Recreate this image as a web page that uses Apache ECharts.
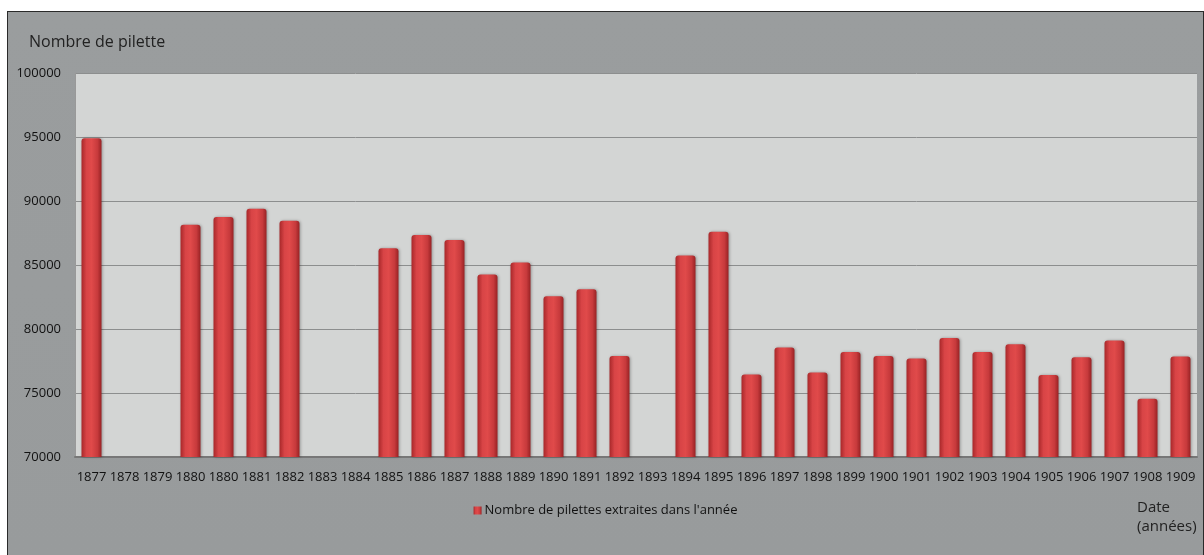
<!DOCTYPE html>
<html>
<head>
<meta charset="utf-8">
<script src="https://cdn.jsdelivr.net/npm/echarts@6/dist/echarts.min.js"></script>
<style>
  html, body { margin: 0; padding: 0; background: #fff; }
  #frame {
    position: absolute; left: 7px; top: 11px;
    width: 1195px; height: 543px;
    border: 1px solid #2a2a2a;
    background: linear-gradient(#9a9d9e, #989b9c);
  }
  #chart { width: 1195px; height: 543px; }
</style>
</head>
<body>
<div id="frame"><div id="chart"></div></div>
<script>
const years = ['1877', '1878', '1879', '1880', '1880', '1881', '1882', '1883', '1884', '1885',
  '1886', '1887', '1888', '1889', '1890', '1891', '1892', '1893', '1894', '1895',
  '1896', '1897', '1898', '1899', '1900', '1901', '1902', '1903', '1904', '1905',
  '1906', '1907', '1908', '1909']
const pilettes = [94900, null, null, 88150, 88750, 89400, 88450, null, null, 86300,
  87350, 86950, 84250, 85200, 82550, 83100, 77900, null, 85750, 87600,
  76450, 78550, 76600, 78200, 77900, 77700, 79300, 78200, 78800, 76400,
  77800, 79100, 74550, 77850]
const seriesName = "Nombre de pilettes extraites dans l'année"
const yTitle = 'Nombre de pilette'

const myChart = echarts.init(document.getElementById('chart'))
const font = 'Open Sans'

const barColor = new echarts.graphic.LinearGradient(0, 0, 1, 0, [
  { offset: 0, color: '#a8282a' },
  { offset: 0.25, color: '#d84446' },
  { offset: 0.5, color: '#e04a4a' },
  { offset: 0.8, color: '#c73a3c' },
  { offset: 1, color: '#982224' }
])

const option = {
  animation: false,
  textStyle: { fontFamily: font },
  title: {
    text: yTitle,
    left: 16,
    top: 17,
    textStyle: { fontFamily: font, fontSize: 16, fontWeight: 'normal', color: '#222' }
  },
  legend: {
    top: 487,
    left: 'center',
    icon: 'rect',
    itemWidth: 8,
    itemHeight: 8,
    itemGap: 4,
    textStyle: { fontFamily: font, fontSize: 13, color: '#111', padding: [0, 0, 0, -2] }
  },
  grid: { left: 67, right: 6, top: 61, bottom: 98 },
  xAxis: {
    type: 'category',
    data: years,
    axisTick: { show: false },
    axisLine: { lineStyle: { color: '#777', width: 2 } },
    axisLabel: { interval: 0, margin: 14, fontSize: 13, color: '#111', fontFamily: font }
  },
  yAxis: {
    type: 'value',
    min: 70000,
    max: 100000,
    interval: 5000,
    axisLine: { show: true, lineStyle: { color: '#999', width: 1 } },
    axisTick: { show: false },
    axisLabel: {
      margin: 14, fontSize: 13, color: '#111', fontFamily: font,
      formatter: function (v) { return String(v) }
    },
    splitLine: { lineStyle: { color: '#8c8e8e', width: 1 } },
    splitArea: { show: true, areaStyle: { color: ['#d3d5d4', '#d3d5d4'] } }
  },
  graphic: [
    {
      type: 'text',
      left: 1129,
      top: 486,
      style: {
        text: 'Date\n(années)',
        font: '15px "Open Sans"',
        fill: '#222',
        lineHeight: 19
      }
    }
  ],
  series: [
    {
      name: seriesName,
      type: 'bar',
      data: pilettes,
      barWidth: 20,
      itemStyle: {
        color: barColor,
        borderRadius: [3, 3, 0, 0],
        shadowColor: 'rgba(0,0,0,0.3)',
        shadowBlur: 3,
        shadowOffsetX: 1
      }
    }
  ]
}

option && myChart.setOption(option)

window.addEventListener('resize', function () {
  myChart.resize()
})
</script>
</body>
</html>
